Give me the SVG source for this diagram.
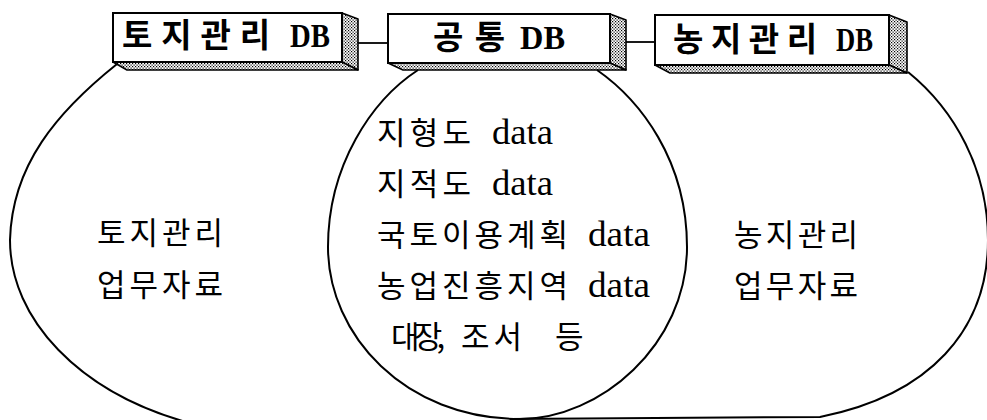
<svg xmlns="http://www.w3.org/2000/svg" width="987" height="420" viewBox="0 0 987 420">
<defs>
<pattern id="dots" width="3" height="3" patternUnits="userSpaceOnUse">
<rect width="3" height="3" fill="#ffffff"/>
<rect x="0" y="0" width="1.2" height="1.2" fill="#000"/>
<rect x="1.5" y="1.5" width="1.2" height="1.2" fill="#000"/>
</pattern>
<style>
.shape{fill:none;stroke:#000;stroke-width:2}
.front{fill:#fff;stroke:#000;stroke-width:2}
.shade{fill:url(#dots);stroke:#000;stroke-width:1.6;stroke-linejoin:round}
.conn{fill:none;stroke:#000;stroke-width:1.8}
.ko{font-family:"Noto Sans CJK KR","Noto Sans",sans-serif;font-size:31px;fill:#000}
.la{font-family:"Liberation Serif",serif;font-size:35px;fill:#000}
.kob{font-family:"Noto Sans CJK KR","Noto Sans",sans-serif;font-size:33px;font-weight:700;fill:#000}
.lab{font-family:"Liberation Serif",serif;font-size:34px;font-weight:700;fill:#000}
</style>
</defs>
<rect width="987" height="420" fill="#fff"/>

<g id="regions">
<path id="left-region" class="shape" d="M117,64 C57,112 12,165 10,240 C10,320 80,392 186,422"/>
<path id="middle-region" class="shape" d="M418,70 C372,100 328,165 328,247 C328,335 405,419 520,419 C600,419 687,345 687,247 C687,160 640,100 597,70"/>
<path id="right-region" class="shape" d="M908,72 C955,110 988,170 988,240 C988,330 930,395 820,417 L510,419"/>
</g>

<g id="connectors">
<line class="conn" x1="358" y1="43" x2="388" y2="43"/>
<line class="conn" x1="626" y1="42" x2="655" y2="42"/>
</g>

<g id="box-land">
<polygon class="shade" points="342,13 358,19 358,70 342,62"/>
<polygon class="shade" points="113,62 342,62 358,70 127,70"/>
<rect class="front" x="113" y="13" width="229" height="49"/>
<text x="122" y="47"><tspan class="kob" textLength="148" lengthAdjust="spacing">토지관리</tspan><tspan class="lab" x="290" textLength="40" lengthAdjust="spacingAndGlyphs">DB</tspan></text>
</g>

<g id="box-common">
<polygon class="shade" points="610,14 626,20 626,70 610,63"/>
<polygon class="shade" points="388,63 610,63 626,70 403,70"/>
<rect class="front" x="388" y="14" width="222" height="49"/>
<text x="433" y="49"><tspan class="kob" textLength="72" lengthAdjust="spacing">공통</tspan><tspan class="lab" x="520" textLength="45" lengthAdjust="spacingAndGlyphs">DB</tspan></text>
</g>

<g id="box-farm">
<polygon class="shade" points="889,15 907,22 907,73 889,65"/>
<polygon class="shade" points="655,65 889,65 907,73 670,73"/>
<rect class="front" x="655" y="15" width="234" height="50"/>
<text x="673" y="51"><tspan class="kob" textLength="144" lengthAdjust="spacing">농지관리</tspan><tspan class="lab" x="836" textLength="37" lengthAdjust="spacingAndGlyphs">DB</tspan></text>
</g>

<g id="land-work">
<text class="ko" x="97" y="244" textLength="126" lengthAdjust="spacing">토지관리</text>
<text class="ko" x="97" y="296" textLength="126" lengthAdjust="spacing">업무자료</text>
</g>

<g id="common-data">
<text y="144"><tspan class="ko" x="377" textLength="94" lengthAdjust="spacing">지형도</tspan><tspan class="la" x="492" textLength="61" lengthAdjust="spacingAndGlyphs">data</tspan></text>
<text y="195"><tspan class="ko" x="377" textLength="94" lengthAdjust="spacing">지적도</tspan><tspan class="la" x="492" textLength="61" lengthAdjust="spacingAndGlyphs">data</tspan></text>
<text y="246"><tspan class="ko" x="377" textLength="191" lengthAdjust="spacing">국토이용계획</tspan><tspan class="la" x="588" textLength="62" lengthAdjust="spacingAndGlyphs">data</tspan></text>
<text y="297"><tspan class="ko" x="377" textLength="191" lengthAdjust="spacing">농업진흥지역</tspan><tspan class="la" x="588" textLength="62" lengthAdjust="spacingAndGlyphs">data</tspan></text>
<text y="348"><tspan class="ko" x="391" textLength="54" lengthAdjust="spacing">대장,</tspan><tspan class="ko" x="461" textLength="61" lengthAdjust="spacing">조서</tspan><tspan class="ko" x="555">등</tspan></text>
</g>

<g id="farm-work">
<text class="ko" x="734" y="246" textLength="124" lengthAdjust="spacing">농지관리</text>
<text class="ko" x="734" y="297" textLength="124" lengthAdjust="spacing">업무자료</text>
</g>
</svg>
